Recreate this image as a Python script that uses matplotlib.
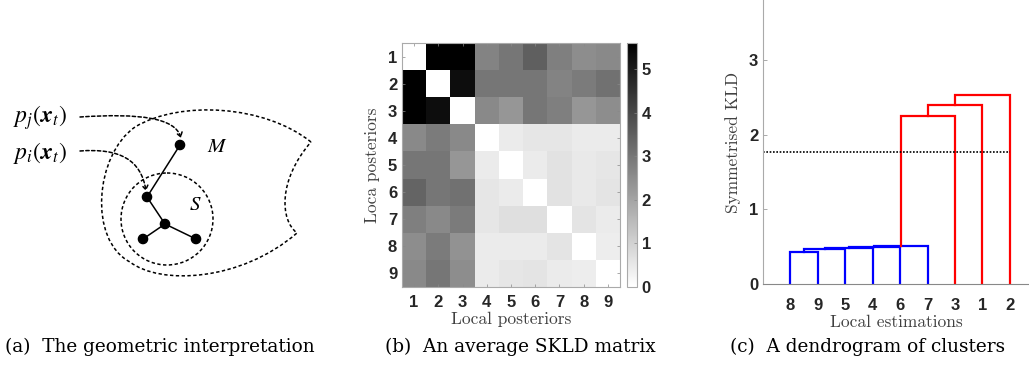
import numpy as np
import matplotlib
matplotlib.use("Agg")
import matplotlib.pyplot as plt
from matplotlib.path import Path
from matplotlib.patches import PathPatch, Circle, FancyArrowPatch

# ---- data -------------------------------------------------------------
# (b) average SKLD matrix, rows/cols = local posteriors 1..9
post_labels = [1, 2, 3, 4, 5, 6, 7, 8, 9]
skld = np.array([
    [0.0, 5.6, 5.6, 2.7, 3.0, 3.5, 2.8, 2.5, 2.6],
    [5.6, 0.0, 5.3, 3.0, 3.0, 3.0, 2.7, 2.9, 3.1],
    [5.6, 5.3, 0.0, 2.6, 2.3, 3.0, 2.8, 2.3, 2.5],
    [2.6, 2.9, 2.6, 0.0, 0.45, 0.55, 0.55, 0.45, 0.45],
    [3.0, 3.0, 2.3, 0.45, 0.0, 0.45, 0.65, 0.5, 0.55],
    [3.4, 3.0, 3.1, 0.55, 0.45, 0.0, 0.65, 0.5, 0.6],
    [2.8, 2.6, 2.9, 0.55, 0.7, 0.7, 0.0, 0.6, 0.45],
    [2.5, 2.9, 2.4, 0.45, 0.45, 0.45, 0.6, 0.0, 0.4],
    [2.6, 3.0, 2.5, 0.45, 0.55, 0.6, 0.45, 0.4, 0.0],
])
skld_max = 5.6

# (c) dendrogram: leaf order, merges (leaf ids 0-8 = positions, new clusters 9..)
leaf_order = [8, 9, 5, 4, 6, 7, 3, 1, 2]
merge_pairs = [(0, 1), (9, 2), (10, 3), (11, 4), (12, 5), (13, 6), (14, 7), (15, 8)]
merge_heights = [0.43, 0.47, 0.485, 0.495, 0.505, 2.255, 2.40, 2.53]
cut_height = 1.776

# (a) schematic, in picture pixels
node_xy = [(180, 145), (147, 197), (165, 224), (143, 239), (196, 239)]
edges = [(0, 1), (1, 2), (2, 3), (2, 4)]
s_centre, s_radius = (167, 219), 46

tick_col = "#262626"
lab_col = "#404040"

fig = plt.figure(figsize=(10.29, 3.73), dpi=100)
W, H = 1029, 373


def box(x0, y0, x1, y1):
    return [x0 / W, 1 - y1 / H, (x1 - x0) / W, (y1 - y0) / H]


# ---- (a) geometric interpretation --------------------------------------
plt.rcParams["mathtext.fontset"] = "stix"
ax_a = fig.add_axes([0, 0, 340 / W, 1])
ax_a.set_xlim(0, 340)
ax_a.set_ylim(373, 0)
ax_a.axis("off")

dash = (0, (2.2, 1.6))
M = Path.MOVETO
C = Path.CURVE4
verts = [(311, 142),
         (265, 105), (180, 100), (135, 127),
         (95, 155), (88, 240), (130, 262),
         (160, 285), (240, 282), (297, 233),
         (280, 220), (278, 180), (311, 142)]
codes = [M] + [C] * 12
ax_a.add_patch(PathPatch(Path(verts, codes), fill=False, lw=1.1, ls=dash, color="black"))
ax_a.add_patch(Circle(s_centre, s_radius, fill=False, lw=1.1, ls=dash, color="black"))

for a, b in edges:
    ax_a.plot([node_xy[a][0], node_xy[b][0]], [node_xy[a][1], node_xy[b][1]],
              color="black", lw=1.1)
for x, y in node_xy:
    ax_a.add_patch(Circle((x, y), 4.6, color="black", zorder=5))

arr1 = Path([(80, 117), (140, 113), (175, 118), (181, 138)], [M, C, C, C])
arr2 = Path([(80, 151), (120, 148), (141, 160), (146, 191)], [M, C, C, C])
for p in (arr1, arr2):
    ax_a.add_patch(FancyArrowPatch(path=p, arrowstyle="->,head_length=3,head_width=2",
                                   lw=1.1, ls=dash, color="black"))

ax_a.text(40, 118, r"$p_j(\mathbfit{x}_t)$", fontsize=17, ha="center", va="center")
ax_a.text(40, 153, r"$p_i(\mathbfit{x}_t)$", fontsize=17, ha="center", va="center")
ax_a.text(217, 146, r"$M$", fontsize=15, ha="center", va="center")
ax_a.text(195, 204, r"$S$", fontsize=15, ha="center", va="center")

# ---- (b) SKLD matrix ----------------------------------------------------
ax_b = fig.add_axes(box(402, 43, 620, 287))
im = ax_b.imshow(skld, cmap="gray_r", vmin=0, vmax=skld_max, aspect="auto")
ax_b.set_xticks(range(len(post_labels)))
ax_b.set_yticks(range(len(post_labels)))
ax_b.set_xticklabels(post_labels)
ax_b.set_yticklabels(post_labels)
ax_b.tick_params(direction="in", length=2.5, width=0.5, colors="#888888",
                 top=True, right=True, labelsize=12)
ax_b.tick_params(axis="x", pad=6)
for lb in ax_b.get_xticklabels() + ax_b.get_yticklabels():
    lb.set_fontweight("bold")
    lb.set_fontfamily("Liberation Sans")
    lb.set_color(tick_col)
for sp in ax_b.spines.values():
    sp.set_color("#aaaaaa")
    sp.set_linewidth(0.8)
ax_b.set_xlabel("Local posteriors", family="cmr10", fontsize=12.5, color=lab_col, labelpad=1)
ax_b.set_ylabel("Loca posteriors", family="cmr10", fontsize=12.5, color=lab_col, labelpad=6)

cax = fig.add_axes(box(627, 43, 637, 287))
cb = fig.colorbar(im, cax=cax, ticks=range(6))
cb.outline.set_edgecolor("#aaaaaa")
cb.outline.set_linewidth(0.8)
cax.tick_params(direction="in", length=2, width=0.5, colors="#888888", labelsize=12)
for lb in cax.get_yticklabels():
    lb.set_fontweight("bold")
    lb.set_fontfamily("Liberation Sans")
    lb.set_color(tick_col)

# ---- (c) dendrogram -----------------------------------------------------
ax_c = fig.add_axes(box(763, 0, 1029, 284))
xpos = {i: i + 1 for i in range(len(leaf_order))}
ypos = {i: 0.0 for i in range(len(leaf_order))}
n = len(leaf_order)
for k, ((a, b), h) in enumerate(zip(merge_pairs, merge_heights)):
    col = "red" if h > cut_height else "blue"
    ax_c.plot([xpos[a], xpos[a], xpos[b], xpos[b]], [ypos[a], h, h, ypos[b]],
              color=col, lw=1.6, solid_joinstyle="miter")
    xpos[n + k] = (xpos[a] + xpos[b]) / 2
    ypos[n + k] = h
ax_c.plot([0, n], [cut_height, cut_height], color="black", ls=(0, (1, 1)), lw=1.2)
ax_c.set_xlim(0, 9.7)
ax_c.set_ylim(0, 3.81)
ax_c.set_xticks(range(1, n + 1))
ax_c.set_xticklabels(leaf_order)
ax_c.set_yticks([0, 1, 2, 3])
ax_c.tick_params(axis="y", direction="in", length=3, width=0.5, colors="#888888", labelsize=12)
ax_c.tick_params(axis="x", length=0, pad=10, labelsize=12)
for lb in ax_c.get_xticklabels() + ax_c.get_yticklabels():
    lb.set_fontweight("bold")
    lb.set_fontfamily("Liberation Sans")
    lb.set_color(tick_col)
ax_c.spines["top"].set_visible(False)
ax_c.spines["right"].set_visible(False)
ax_c.spines["left"].set_color("#aaaaaa")
ax_c.spines["bottom"].set_color("#888888")
ax_c.set_xlabel("Local estimations", family="cmr10", fontsize=12.5, color=lab_col, labelpad=1)
ax_c.set_ylabel("Symmetrised KLD", family="cmr10", fontsize=12.5, color=lab_col, labelpad=6)

# ---- captions -----------------------------------------------------------
cap = dict(fontsize=13.3, family="DejaVu Serif", ha="center", va="center")
fig.text(160 / W, 1 - 347 / H, "(a)  The geometric interpretation", **cap)
fig.text(520 / W, 1 - 347 / H, "(b)  An average SKLD matrix", **cap)
fig.text(868 / W, 1 - 347 / H, "(c)  A dendrogram of clusters", **cap)

fig.savefig("out.png", dpi=100)
